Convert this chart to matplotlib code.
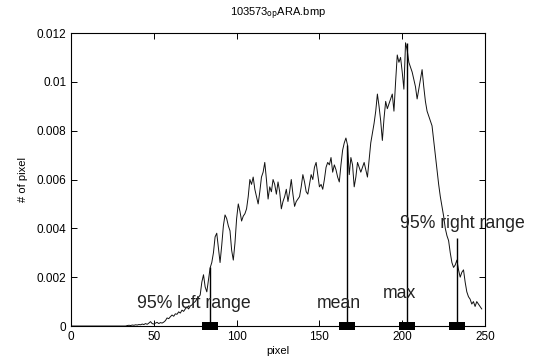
import numpy as np
import matplotlib
matplotlib.use('Agg')
import matplotlib.pyplot as plt

# histogram of grey levels (normalised)
pixel = np.arange(0, 249)
counts = [0.0] * 34 + [
    0.00002, 0.00003, 0.00002, 0.00004, 0.00003, 0.00005, 0.00004, 0.00006, 0.00005, 0.00008,  # 34-43
    0.00006, 0.0001, 0.00007, 0.00012, 0.00018, 0.0001, 0.00008, 0.00012, 0.00015, 0.0001,     # 44-53
    0.00014, 0.00012, 0.00016, 0.00022, 0.00033, 0.0003, 0.00038, 0.00045, 0.0004, 0.0005,     # 54-63
    0.00048, 0.00058, 0.00053, 0.00065, 0.0006, 0.0007, 0.00078, 0.0007, 0.00082, 0.00086,     # 64-73
    0.00095, 0.001, 0.0011, 0.00118, 0.00127, 0.0018, 0.0021, 0.0016, 0.0014, 0.0019,          # 74-83
    0.00238, 0.0026, 0.003, 0.00365, 0.0038, 0.0032, 0.0026, 0.0033, 0.0041, 0.00455,          # 84-93
    0.0044, 0.0041, 0.0039, 0.0031, 0.0027, 0.0034, 0.0044, 0.0050, 0.0047, 0.0043,            # 94-103
    0.0045, 0.0046, 0.0048, 0.0053, 0.0060, 0.0058, 0.0061, 0.0056, 0.0053, 0.0050,            # 104-113
    0.0055, 0.0061, 0.0063, 0.0067, 0.0060, 0.0052, 0.0057, 0.0055, 0.0060, 0.0058,            # 114-123
    0.0054, 0.0059, 0.0055, 0.0048, 0.0051, 0.0053, 0.0056, 0.0051, 0.0055, 0.0060,            # 124-133
    0.0054, 0.0049, 0.0051, 0.0052, 0.0053, 0.0057, 0.0062, 0.0059, 0.0055, 0.0054,            # 134-143
    0.0058, 0.0062, 0.0060, 0.0065, 0.0067, 0.0062, 0.0057, 0.0058, 0.0056, 0.0060,            # 144-153
    0.0065, 0.0067, 0.0066, 0.0069, 0.0063, 0.0066, 0.0064, 0.0061, 0.0059, 0.0066,            # 154-163
    0.0072, 0.0075, 0.0077, 0.0074, 0.0062, 0.0069, 0.0066, 0.0057, 0.0061, 0.0067,            # 164-173
    0.0065, 0.0063, 0.0065, 0.0067, 0.0064, 0.0061, 0.0068, 0.0075, 0.0079, 0.0083,            # 174-183
    0.0088, 0.0095, 0.0090, 0.0084, 0.0076, 0.0085, 0.0092, 0.0089, 0.0091, 0.0093,            # 184-193
    0.0095, 0.0088, 0.0100, 0.0111, 0.0108, 0.0110, 0.0104, 0.0097, 0.0116, 0.0113,            # 194-203
    0.0108, 0.0106, 0.0104, 0.0101, 0.0098, 0.0093, 0.0097, 0.0101, 0.0105, 0.0098,            # 204-213
    0.0092, 0.0088, 0.0086, 0.0084, 0.0082, 0.0076, 0.0070, 0.0064, 0.0058, 0.0053,            # 214-223
    0.0049, 0.0045, 0.0040, 0.0037, 0.0035, 0.0030, 0.0026, 0.0024, 0.0025, 0.0027,            # 224-233
    0.0023, 0.0020, 0.0022, 0.0023, 0.0018, 0.0014, 0.0012, 0.0011, 0.0009, 0.0010,            # 234-243
    0.0008, 0.0010, 0.0009, 0.0008, 0.0007,                                                    # 244-248
]

# marked positions: 95% left range, mean, max, 95% right range
mark_x = [84, 166.5, 203, 233]
mark_h = [0.0024, 0.0074, 0.0116, 0.0036]
mark_labels = ['95% left range', 'mean', 'max', '95% right range']
label_pos = [(40, 0.00094), (148.5, 0.00094), (188, 0.00135), (198.5, 0.0042)]

xticks = [0, 50, 100, 150, 200, 250]
yticks = [0, 0.002, 0.004, 0.006, 0.008, 0.01, 0.012]
ytick_labels = ['0', '0.002', '0.004', '0.006', '0.008', '0.01', '0.012']

plt.rcParams['font.family'] = ['Liberation Sans', 'DejaVu Sans']

fig = plt.figure(figsize=(5.36, 3.6), dpi=100)
ax = fig.add_axes([0.1325, 0.0944, 0.7724, 0.8139])

ax.plot(pixel, counts, color='#111111', linewidth=0.7)
ax.vlines(mark_x, 0, mark_h, color='k', linewidth=1.0)
box = [(-1, -0.5), (1, -0.5), (1, 0.5), (-1, 0.5), (-1, -0.5)]
ax.plot(mark_x, [0] * len(mark_x), linestyle='none', marker=box,
        markersize=11, markeredgewidth=0, color='k', clip_on=False, zorder=5)

for lab, (tx, ty) in zip(mark_labels, label_pos):
    ax.text(tx, ty, lab, fontsize=12.7, va='center', ha='left', color='#222222')

ax.set_xlim(0, 250)
ax.set_ylim(0, 0.012)
ax.set_xticks(xticks)
ax.set_yticks(yticks)
ax.set_yticklabels(ytick_labels)
ax.tick_params(direction='in', top=True, right=True, length=4, labelsize=8.5, width=0.7)
for s in ax.spines.values():
    s.set_linewidth(0.8)

ax.set_xlabel('pixel', fontsize=8, labelpad=2)
ax.set_ylabel('# of pixel', fontsize=8, labelpad=6)
ax.set_title(r'103573$_{\mathrm{op}}$ARA.bmp', fontsize=8, pad=12)

fig.savefig('out.png', dpi=100)
